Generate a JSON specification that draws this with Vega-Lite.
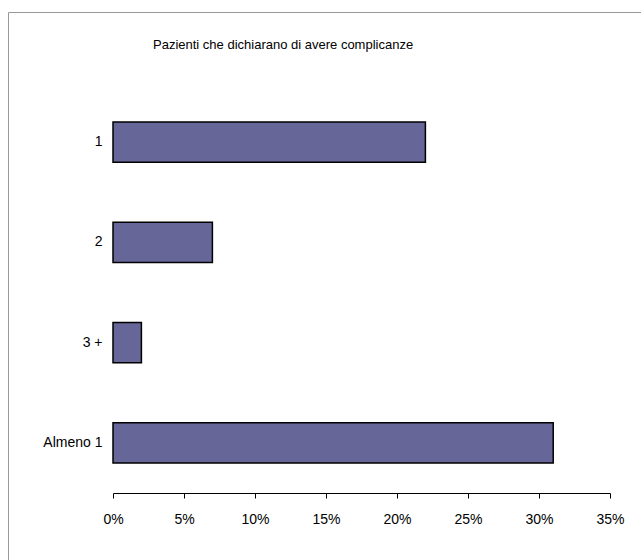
{
  "$schema": "https://vega.github.io/schema/vega-lite/v6.json",
  "width": 700,
  "height": 600,
  "autosize": {"type": "none"},
  "padding": {"left": 8, "top": 12, "right": 0, "bottom": 0},
  "background": "white",
  "view": {"stroke": "#999999", "strokeWidth": 1},
  "title": {
    "text": "Pazienti che dichiarano di avere complicanze",
    "font": "Liberation Sans",
    "fontSize": 13,
    "fontWeight": "normal",
    "color": "black",
    "anchor": "start",
    "frame": "group",
    "dx": 145,
    "offset": -40
  },
  "data": {
    "values": [
      {"categoria": "1", "quota": 0.22},
      {"categoria": "2", "quota": 0.07},
      {"categoria": "3 +", "quota": 0.02},
      {"categoria": "Almeno 1", "quota": 0.31}
    ]
  },
  "mark": {"type": "bar", "fill": "#666699", "stroke": "black", "strokeWidth": 1.5},
  "encoding": {
    "y": {
      "field": "categoria",
      "type": "nominal",
      "sort": ["1", "2", "3 +", "Almeno 1"],
      "scale": {"range": [80, 481], "paddingInner": 0.6, "paddingOuter": 0.3},
      "axis": {
        "title": null,
        "offset": -105,
        "domain": false,
        "ticks": false,
        "labelPadding": 11,
        "labelFont": "Liberation Sans",
        "labelFontSize": 14,
        "labelColor": "black"
      }
    },
    "x": {
      "field": "quota",
      "type": "quantitative",
      "scale": {"domain": [0, 0.35], "range": [105, 602], "nice": false},
      "axis": {
        "title": null,
        "offset": -119,
        "values": [0, 0.05, 0.1, 0.15, 0.2, 0.25, 0.3, 0.35],
        "format": ".0%",
        "grid": false,
        "domainColor": "black",
        "domainWidth": 1,
        "tickColor": "black",
        "tickSize": 5,
        "labelPadding": 14,
        "labelFont": "Liberation Sans",
        "labelFontSize": 14,
        "labelColor": "black",
        "labelFlush": false
      }
    }
  }
}
